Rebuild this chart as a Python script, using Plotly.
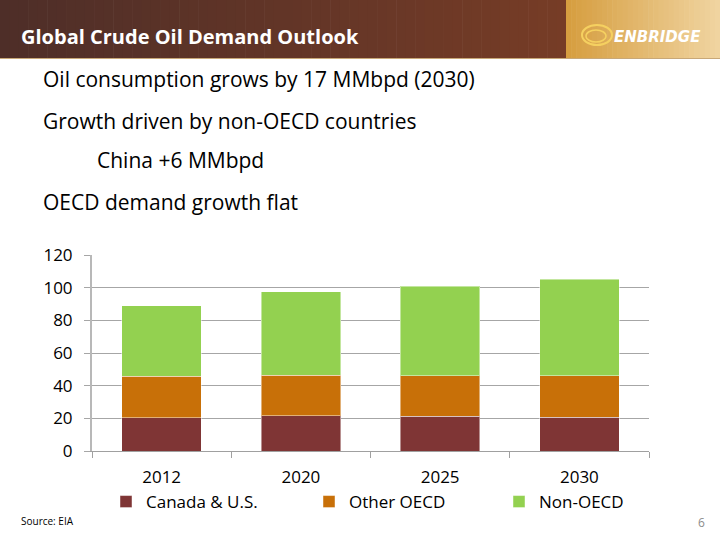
import plotly.graph_objects as go

years = ["2012", "2020", "2025", "2030"]
canada_us = [20.4, 21.6, 21.2, 20.6]
other_oecd = [25.3, 24.7, 24.9, 25.5]
non_oecd = [43.1, 51.3, 54.7, 59.0]
series_names = ["Canada & U.S.", "Other OECD", "Non-OECD"]
series_colors = ["#7f3535", "#c87008", "#93d150"]
y_ticks = [0, 20, 40, 60, 80, 100, 120]

FONT = "Open Sans"
W, H = 720, 540
L, R, T, B = 92, 71, 255, 89

legend_ids = ["legend", "legend2", "legend3"]
legend_left_px = [106, 309, 499]

fig = go.Figure()
for name, vals, col, lid in zip(series_names, [canada_us, other_oecd, non_oecd], series_colors, legend_ids):
    fig.add_trace(go.Bar(x=years, y=vals, name=name, legend=lid,
                         marker=dict(color=col, line=dict(color="rgba(255,255,255,0.45)", width=1))))


def lerp(c1, c2, t):
    return "#%02x%02x%02x" % tuple(int(round(a + (b - a) * t)) for a, b in zip(c1, c2))


def px_x(x):
    return (x - L) / (W - L - R)


def px_y(y):
    return (H - B - y) / (H - T - B)


shapes = []
n = 60
x0h, x1h = 0, 566
for i in range(n):
    xa = x0h + (x1h - x0h) * i / n
    xb = x0h + (x1h - x0h) * (i + 1) / n + 0.6
    shapes.append(dict(type="rect", xref="paper", yref="paper",
                       x0=px_x(xa), x1=px_x(xb), y0=px_y(58), y1=px_y(0),
                       line=dict(width=0), fillcolor=lerp((78, 46, 40), (118, 60, 38), i / (n - 1)), layer="above"))
m = 30
x0g, x1g = 566, 720
for i in range(m):
    xa = x0g + (x1g - x0g) * i / m
    xb = x0g + (x1g - x0g) * (i + 1) / m + 0.6
    shapes.append(dict(type="rect", xref="paper", yref="paper",
                       x0=px_x(xa), x1=px_x(xb), y0=px_y(58), y1=px_y(0),
                       line=dict(width=0), fillcolor=lerp((214, 158, 64), (240, 212, 160), i / (m - 1)), layer="above"))
shapes.append(dict(type="line", xref="paper", yref="paper", x0=px_x(0), x1=px_x(720), y0=px_y(58.5), y1=px_y(58.5),
                   line=dict(color="#c8a878", width=1), layer="above"))
# logo swirl
shapes.append(dict(type="circle", xref="paper", yref="paper", x0=px_x(582), x1=px_x(612), y0=px_y(45), y1=px_y(25),
                   line=dict(color="#f5d060", width=2), layer="above"))
shapes.append(dict(type="circle", xref="paper", yref="paper", x0=px_x(586), x1=px_x(606), y0=px_y(42), y1=px_y(30),
                   line=dict(color="#f5d060", width=1.5), layer="above"))

annotations = [
    dict(text="<b>Global Crude Oil Demand Outlook</b>", x=px_x(19), y=px_y(36), xref="paper", yref="paper",
         xanchor="left", yanchor="middle", showarrow=False, font=dict(family=FONT, size=20, color="white")),
    dict(text="<b><i>ENBRIDGE</i></b>", x=px_x(703), y=px_y(37), xref="paper", yref="paper",
         xanchor="right", yanchor="middle", showarrow=False, font=dict(family="DejaVu Sans", size=15, color="white")),
    dict(text="Oil consumption grows by 17 MMbpd (2030)", x=px_x(41), y=px_y(79), xref="paper", yref="paper",
         xanchor="left", yanchor="middle", showarrow=False, font=dict(family=FONT, size=21, color="black")),
    dict(text="Growth driven by non-OECD countries", x=px_x(41), y=px_y(121), xref="paper", yref="paper",
         xanchor="left", yanchor="middle", showarrow=False, font=dict(family=FONT, size=21, color="black")),
    dict(text="China +6 MMbpd", x=px_x(95), y=px_y(160), xref="paper", yref="paper",
         xanchor="left", yanchor="middle", showarrow=False, font=dict(family=FONT, size=21, color="black")),
    dict(text="OECD demand growth flat", x=px_x(41), y=px_y(202), xref="paper", yref="paper",
         xanchor="left", yanchor="middle", showarrow=False, font=dict(family=FONT, size=21, color="black")),
    dict(text="Source: EIA", x=px_x(19), y=px_y(521), xref="paper", yref="paper",
         xanchor="left", yanchor="middle", showarrow=False, font=dict(family=FONT, size=10, color="black")),
    dict(text="6", x=px_x(707), y=px_y(522), xref="paper", yref="paper",
         xanchor="right", yanchor="middle", showarrow=False, font=dict(family=FONT, size=12, color="#8c8c8c")),
]

legend_cfg = {}
for lid, lx in zip(legend_ids, legend_left_px):
    legend_cfg[lid] = dict(orientation="h", xref="container", yref="container", x=lx / W, y=(H - 502) / H,
                           xanchor="left", yanchor="middle", font=dict(size=17), itemwidth=30,
                           bgcolor="rgba(0,0,0,0)")

fig.update_layout(
    width=W, height=H, margin=dict(l=L, r=R, t=T, b=B, autoexpand=False),
    paper_bgcolor="white", plot_bgcolor="white",
    barmode="stack", bargap=0.43,
    font=dict(family=FONT, size=17, color="black"),
    showlegend=True,
    xaxis=dict(type="category", showgrid=False, showline=True, linecolor="#a0a0a0", linewidth=1,
               ticks="outside", tickson="boundaries", ticklen=6, tickcolor="#a0a0a0",
               tickfont=dict(size=17), ticklabelstandoff=11),
    yaxis=dict(range=[0, 120], tickvals=y_ticks, showgrid=True, gridcolor="#a6a6a6", gridwidth=1,
               showline=True, linecolor="#b8b8b8", linewidth=2, ticks="outside", ticklen=6,
               tickcolor="#a6a6a6", zeroline=False,
               tickfont=dict(size=17), ticklabelstandoff=8),
    shapes=shapes, annotations=annotations,
    **legend_cfg,
)

fig.write_html("out.html", config={"displayModeBar": False},
               post_script="document.body.style.margin='0';document.body.style.padding='0';")
